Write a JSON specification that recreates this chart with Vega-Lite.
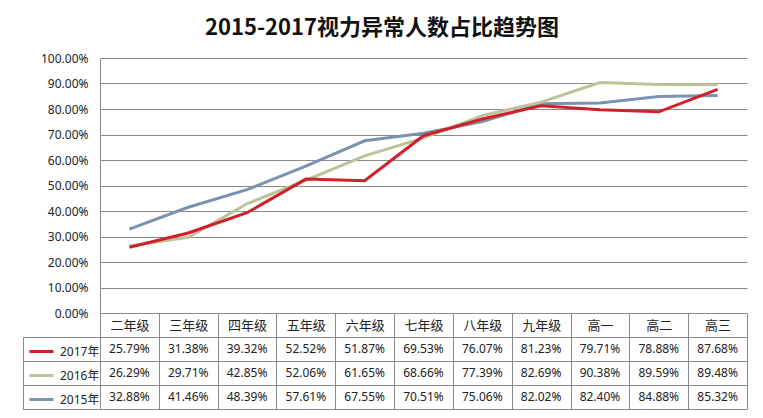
{
  "$schema": "https://vega.github.io/schema/vega-lite/v6.json",
  "background": "white",
  "padding": {"left": 22, "top": 17, "right": 10, "bottom": 5},
  "title": {"text": "2015-2017视力异常人数占比趋势图", "font": "Noto Sans CJK SC", "fontSize": 22, "fontWeight": "bold", "color": "#111111", "anchor": "middle", "offset": 12, "dx": -3},
  "config": {
    "view": {"stroke": null},
    "font": "Noto Sans, Noto Sans CJK SC",
    "axis": {"labelFont": "Noto Sans, Noto Sans CJK SC", "labelColor": "#222222", "labelFontSize": 12}
  },
  "data": {"values": [
    {"year": "2015年", "grade": "二年级", "rate": 0.3288},
    {"year": "2015年", "grade": "三年级", "rate": 0.4146},
    {"year": "2015年", "grade": "四年级", "rate": 0.4839},
    {"year": "2015年", "grade": "五年级", "rate": 0.5761},
    {"year": "2015年", "grade": "六年级", "rate": 0.6755},
    {"year": "2015年", "grade": "七年级", "rate": 0.7051},
    {"year": "2015年", "grade": "八年级", "rate": 0.7506},
    {"year": "2015年", "grade": "九年级", "rate": 0.8202},
    {"year": "2015年", "grade": "高一", "rate": 0.8240},
    {"year": "2015年", "grade": "高二", "rate": 0.8488},
    {"year": "2015年", "grade": "高三", "rate": 0.8532},
    {"year": "2016年", "grade": "二年级", "rate": 0.2629},
    {"year": "2016年", "grade": "三年级", "rate": 0.2971},
    {"year": "2016年", "grade": "四年级", "rate": 0.4285},
    {"year": "2016年", "grade": "五年级", "rate": 0.5206},
    {"year": "2016年", "grade": "六年级", "rate": 0.6165},
    {"year": "2016年", "grade": "七年级", "rate": 0.6866},
    {"year": "2016年", "grade": "八年级", "rate": 0.7739},
    {"year": "2016年", "grade": "九年级", "rate": 0.8269},
    {"year": "2016年", "grade": "高一", "rate": 0.9038},
    {"year": "2016年", "grade": "高二", "rate": 0.8959},
    {"year": "2016年", "grade": "高三", "rate": 0.8948},
    {"year": "2017年", "grade": "二年级", "rate": 0.2579},
    {"year": "2017年", "grade": "三年级", "rate": 0.3138},
    {"year": "2017年", "grade": "四年级", "rate": 0.3932},
    {"year": "2017年", "grade": "五年级", "rate": 0.5252},
    {"year": "2017年", "grade": "六年级", "rate": 0.5187},
    {"year": "2017年", "grade": "七年级", "rate": 0.6953},
    {"year": "2017年", "grade": "八年级", "rate": 0.7607},
    {"year": "2017年", "grade": "九年级", "rate": 0.8123},
    {"year": "2017年", "grade": "高一", "rate": 0.7971},
    {"year": "2017年", "grade": "高二", "rate": 0.7888},
    {"year": "2017年", "grade": "高三", "rate": 0.8768}
  ]},
  "bounds": "flush",
  "spacing": 24,
  "resolve": {"scale": {"color": "independent", "x": "independent", "y": "independent"}, "legend": {"color": "independent"}},
  "vconcat": [
    {
      "width": 647,
      "height": 255,
      "mark": {"type": "line", "strokeWidth": 3},
      "encoding": {
        "x": {"field": "grade", "type": "nominal", "sort": ["二年级","三年级","四年级","五年级","六年级","七年级","八年级","九年级","高一","高二","高三"], "scale": {"type": "point", "padding": 0.5}, "axis": null},
        "y": {"field": "rate", "type": "quantitative", "scale": {"domain": [0, 1]}, "axis": {"values": [0, 0.1, 0.2, 0.3, 0.4, 0.5, 0.6, 0.7, 0.8, 0.9, 1], "format": ".2%", "grid": true, "gridColor": "#8a8a8a", "domainColor": "#8a8a8a", "ticks": false, "labelPadding": 12, "title": null, "minExtent": 77, "maxExtent": 77}},
        "color": {"field": "year", "type": "nominal", "scale": {"domain": ["2017年", "2016年", "2015年"], "range": ["#d0202a", "#bcc398", "#7d91b1"]}, "legend": null}
      }
    },
    {
      "width": 647,
      "height": 72,
      "resolve": {"axis": {"y": "independent"}},
      "layer": [
        {
          "mark": {"type": "text", "fontSize": 12, "color": "#222222", "font": "Noto Sans"},
          "encoding": {
            "x": {"field": "grade", "type": "nominal", "sort": ["二年级","三年级","四年级","五年级","六年级","七年级","八年级","九年级","高一","高二","高三"], "scale": {"type": "band", "paddingInner": 0, "paddingOuter": 0},
                  "axis": {"orient": "top", "tickBand": "extent", "ticks": true, "tickSize": 24, "tickColor": "#8a8a8a", "domain": true, "domainColor": "#8a8a8a", "grid": true, "gridColor": "#8a8a8a", "gridOpacity": 1, "labelAngle": 0, "labelBaseline": "middle", "labelPadding": -12, "labelFontSize": 13, "labelFont": "Noto Sans CJK SC", "labelOverlap": false, "title": null}},
            "y": {"field": "year", "type": "nominal", "sort": ["2017年", "2016年", "2015年"], "scale": {"type": "band", "paddingInner": 0, "paddingOuter": 0},
                  "axis": {"orient": "left", "tickBand": "extent", "ticks": true, "tickSize": 77, "tickColor": "#8a8a8a", "domain": true, "domainColor": "#8a8a8a", "grid": true, "gridColor": "#8a8a8a", "gridOpacity": 1, "labels": false, "title": null}},
            "text": {"field": "rate", "type": "quantitative", "format": ".2%"}
          }
        },
        {
          "mark": {"type": "point", "opacity": 0},
          "encoding": {
            "y": {"field": "year", "type": "nominal", "sort": ["2017年", "2016年", "2015年"],
                  "axis": {"orient": "left", "offset": 77, "domain": true, "domainColor": "#8a8a8a", "ticks": false, "labels": false, "grid": false, "title": null}},
            "color": {"field": "year", "type": "nominal", "scale": {"domain": ["2017年", "2016年", "2015年"], "range": ["#d0202a", "#bcc398", "#7d91b1"]},
                      "legend": {"orient": "none", "legendX": -72, "legendY": 1, "title": null, "symbolType": "stroke", "symbolSize": 576, "symbolStrokeWidth": 3, "symbolOpacity": 1, "rowPadding": 4, "padding": 0, "labelOffset": 5, "labelFontSize": 12, "labelFont": "Noto Sans, Noto Sans CJK SC", "labelColor": "#222222"}}
          }
        }
      ]
    }
  ]
}
